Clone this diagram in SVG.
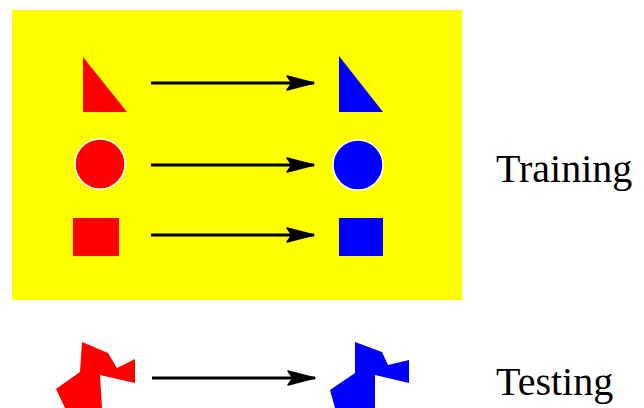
<svg xmlns="http://www.w3.org/2000/svg" width="644" height="408" viewBox="0 0 644 408">
<style>
.red{fill:#ff0000}
.blue{fill:#0000ff}
.circ{stroke:#ffffff;stroke-width:1.5}
.conn{stroke:#000000;stroke-width:3;fill:none}
.label{font-family:"Liberation Serif","Times New Roman",serif;font-size:40px;fill:#000000}
</style>
<defs>
<marker id="ah" markerUnits="userSpaceOnUse" markerWidth="32" markerHeight="20" viewBox="-30 -10 32 20" refX="0" refY="0" orient="auto">
<path d="M0,0 L-27,-7 L-22,0 L-27,7 Z" fill="#000000" stroke="#000000" stroke-width="1.5" stroke-linejoin="round"/>
</marker>
</defs>
<rect id="training-panel" x="12" y="10" width="450" height="290" fill="#ffff00"/>
<g id="src-triangle"><polygon class="red" points="83,57 83,112 127,112"/></g>
<g id="src-circle"><circle class="red circ" cx="100" cy="164" r="25"/></g>
<g id="src-square"><rect class="red" x="73" y="218" width="46" height="38"/></g>
<g id="dst-triangle"><polygon class="blue" points="339,56 339,112 383,112"/></g>
<g id="dst-circle"><circle class="blue circ" cx="358" cy="165" r="25"/></g>
<g id="dst-square"><rect class="blue" x="339" y="218" width="44" height="38"/></g>
<g id="test-src"><polygon class="red" points="82,342 108,353 117,368 135,359 135,383 100,375 102,408 65,408 56,389 80,372"/></g>
<g id="test-dst"><polygon class="blue" points="355,342 382,352 388,365 409,360 409,383 375,375 375,408 335,408 330,390 355,373"/></g>
<g id="connectors">
<line class="conn" x1="151" y1="83" x2="314" y2="83" marker-end="url(#ah)"/>
<line class="conn" x1="151" y1="165" x2="314" y2="165" marker-end="url(#ah)"/>
<line class="conn" x1="151" y1="235" x2="314" y2="235" marker-end="url(#ah)"/>
<line class="conn" x1="152" y1="378" x2="315" y2="378" marker-end="url(#ah)"/>
</g>
<g id="label-training"><text class="label" x="496" y="182">Training</text></g>
<g id="label-testing"><text class="label" x="496" y="395">Testing</text></g>
</svg>
